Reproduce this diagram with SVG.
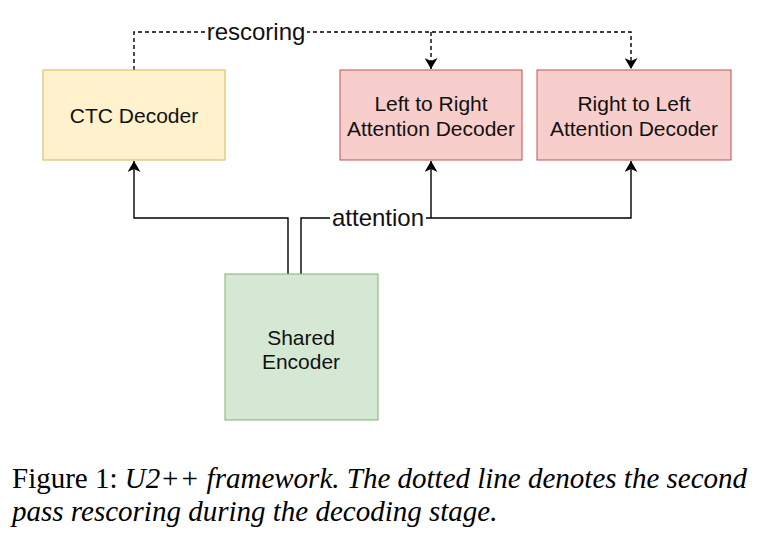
<svg xmlns="http://www.w3.org/2000/svg" width="761" height="534" viewBox="0 0 761 534">
<defs>
<marker id="arr" viewBox="0 0 11 13" refX="11" refY="6.5" markerWidth="11" markerHeight="13" markerUnits="userSpaceOnUse" orient="auto">
<path d="M0,0 L11,6.5 L0,13 L3,6.5 Z" fill="#000"/>
</marker>
</defs>
<style>
.lbl{font-family:"Liberation Sans",Arial,sans-serif;font-size:21px;fill:#111;text-anchor:middle}
.elbl{font-family:"Liberation Sans",Arial,sans-serif;font-size:24px;fill:#111;text-anchor:middle}
.con{fill:none;stroke:#000;stroke-width:1.4}
.dash{stroke-dasharray:4 3}
.cap{font-family:"Liberation Serif","Times New Roman",serif;font-size:29px;fill:#000}
</style>
<rect width="761" height="534" fill="#fff"/>
<g id="connectors">
<path class="con dash" d="M134,70 V32 H631 V69" marker-end="url(#arr)"/>
<path class="con dash" d="M431,32 V69" marker-end="url(#arr)"/>
<path class="con" d="M288,274 V218 H134 V161" marker-end="url(#arr)"/>
<path class="con" d="M301,274 V218 H631 V161" marker-end="url(#arr)"/>
<path class="con" d="M431,218 V161" marker-end="url(#arr)"/>
<rect x="206" y="22" width="101" height="20" fill="#fff"/>
<text class="elbl" x="256" y="40">rescoring</text>
<rect x="330" y="208" width="96" height="20" fill="#fff"/>
<text class="elbl" x="378" y="226">attention</text>
</g>
<g id="ctc">
<rect x="43" y="70" width="182" height="90" fill="#fff2cc" stroke="#d6b656"/>
<text class="lbl" x="134" y="123">CTC Decoder</text>
</g>
<g id="l2r">
<rect x="340" y="70" width="182" height="90" fill="#f8cecc" stroke="#b85450"/>
<text class="lbl" x="431" y="111">Left to Right</text>
<text class="lbl" x="431" y="136">Attention Decoder</text>
</g>
<g id="r2l">
<rect x="537" y="70" width="194" height="90" fill="#f8cecc" stroke="#b85450"/>
<text class="lbl" x="634" y="111">Right to Left</text>
<text class="lbl" x="634" y="136">Attention Decoder</text>
</g>
<g id="encoder">
<rect x="225" y="274" width="153" height="146" fill="#d5e8d4" stroke="#82b366"/>
<text class="lbl" x="301" y="345">Shared</text>
<text class="lbl" x="301" y="369">Encoder</text>
</g>
<text class="cap" x="12" y="488">Figure 1: <tspan font-style="italic">U2++ framework. The dotted line denotes the second</tspan></text>
<text class="cap" x="12" y="521" font-style="italic">pass rescoring during the decoding stage.</text>
</svg>
